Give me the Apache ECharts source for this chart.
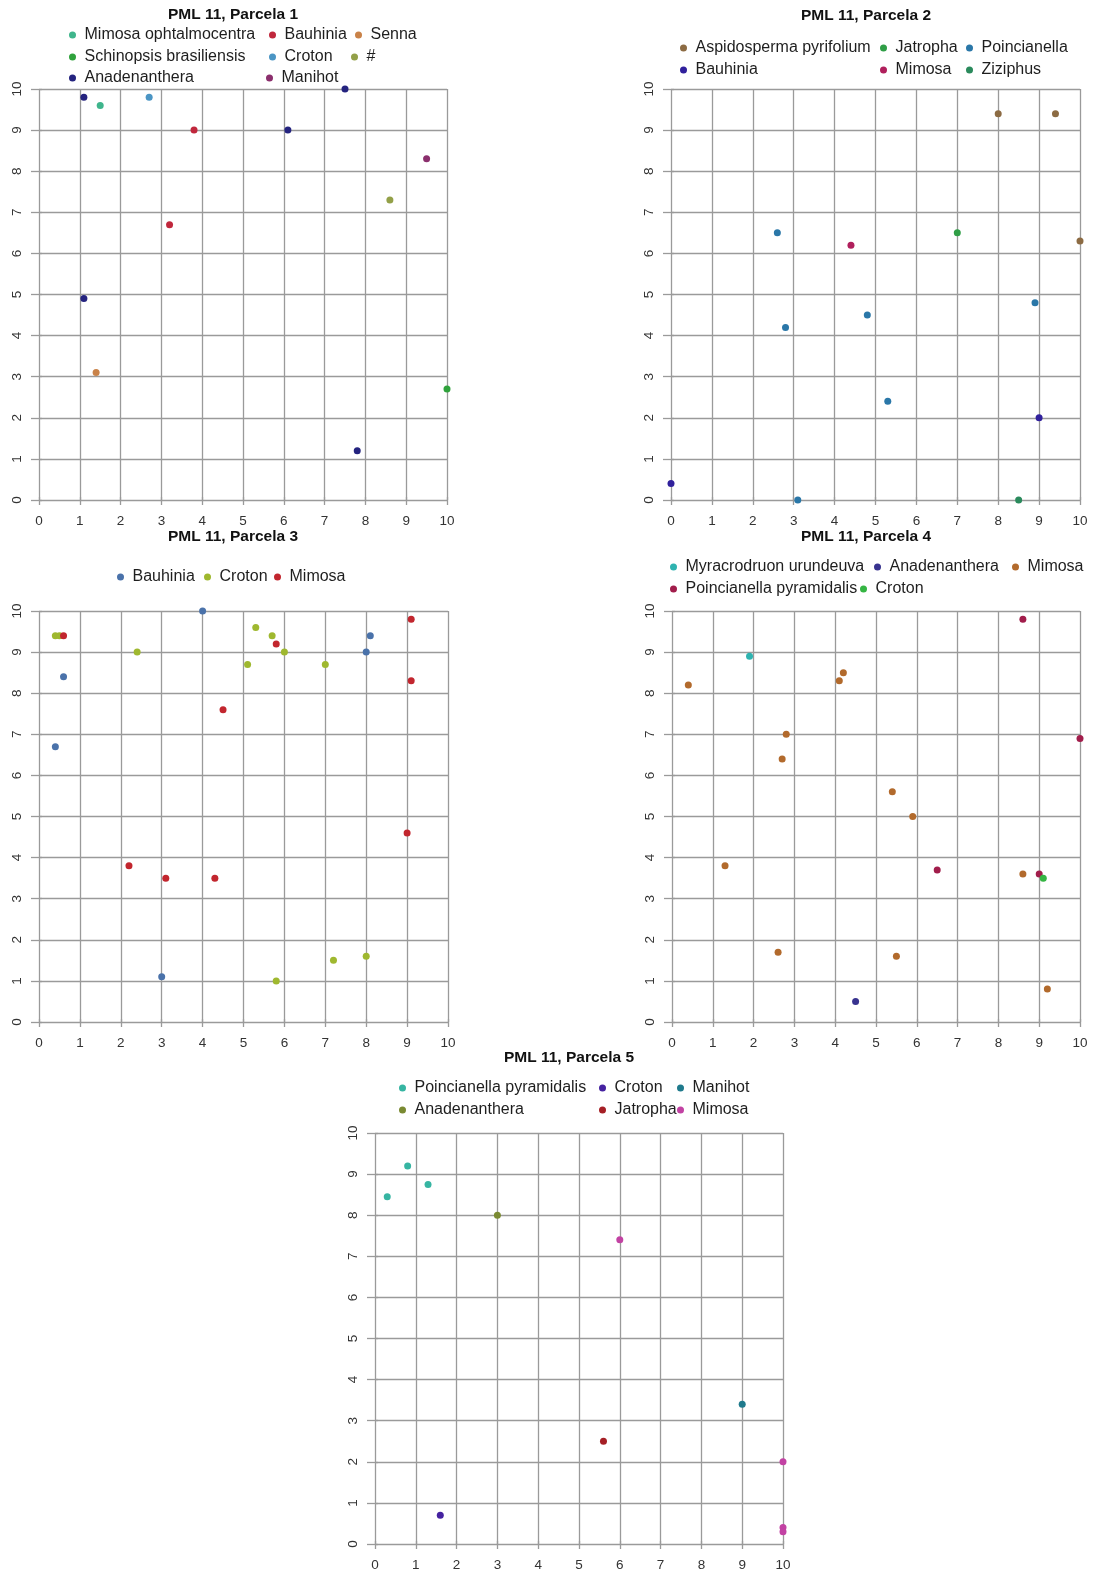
<!DOCTYPE html>
<html>
<head>
<meta charset="utf-8">
<title>PML 11 – Parcelas 1 a 5</title>
<script src="https://cdn.jsdelivr.net/npm/echarts@6/dist/echarts.min.js"></script>
<style>
  html, body { margin: 0; padding: 0; background: #ffffff; }
  #chart { width: 1096px; height: 1573px; }
</style>
</head>
<body>
<div id="chart"></div>
<script>
// ---- Data: tree positions (x, y in metres) per plot ----
const p1Title = 'PML 11, Parcela 1';
const p1Species = ['Mimosa ophtalmocentra', 'Schinopsis brasiliensis', 'Anadenanthera', 'Bauhinia', 'Croton', 'Manihot', 'Senna', '#'];
const p1X =  [1.5, 10.0, 1.1, 6.1, 7.5, 1.1, 7.8, 3.8, 3.2, 2.7, 9.5, 1.4, 8.6];
const p1Y =  [9.6, 2.7, 9.8, 9.0, 10.0, 4.9, 1.2, 9.0, 6.7, 9.8, 8.3, 3.1, 7.3];
const p1Sp = [0, 1, 2, 2, 2, 2, 2, 3, 3, 4, 5, 6, 7];

const p2Title = 'PML 11, Parcela 2';
const p2Species = ['Aspidosperma pyrifolium', 'Bauhinia', 'Jatropha', 'Mimosa', 'Poincianella', 'Ziziphus'];
const p2X =  [8.0, 9.4, 10.0, 9.0, 0.0, 7.0, 4.4, 2.6, 8.9, 4.8, 2.8, 5.3, 3.1, 8.5];
const p2Y =  [9.4, 9.4, 6.3, 2.0, 0.4, 6.5, 6.2, 6.5, 4.8, 4.5, 4.2, 2.4, 0.0, 0.0];
const p2Sp = [0, 0, 0, 1, 1, 2, 3, 4, 4, 4, 4, 4, 4, 5];

const p3Title = 'PML 11, Parcela 3';
const p3Species = ['Bauhinia', 'Croton', 'Mimosa'];
const p3X =  [4.0, 0.4, 0.6, 8.0, 8.1, 3.0,
              0.4, 0.5, 2.4, 5.3, 5.7, 6.0, 5.1, 7.0, 7.2, 8.0, 5.8,
              0.6, 5.8, 9.1, 9.1, 4.5, 9.0, 2.2, 3.1, 4.3];
const p3Y =  [10.0, 6.7, 8.4, 9.0, 9.4, 1.1,
              9.4, 9.4, 9.0, 9.6, 9.4, 9.0, 8.7, 8.7, 1.5, 1.6, 1.0,
              9.4, 9.2, 9.8, 8.3, 7.6, 4.6, 3.8, 3.5, 3.5];
const p3Sp = [0, 0, 0, 0, 0, 0,
              1, 1, 1, 1, 1, 1, 1, 1, 1, 1, 1,
              2, 2, 2, 2, 2, 2, 2, 2, 2];

const p4Title = 'PML 11, Parcela 4';
const p4Species = ['Myracrodruon urundeuva', 'Poincianella pyramidalis', 'Anadenanthera', 'Croton', 'Mimosa'];
const p4X =  [1.9, 8.6, 10.0, 6.5, 9.0, 4.5, 9.1,
              0.4, 4.1, 4.2, 2.8, 2.7, 5.4, 5.9, 1.3, 8.6, 2.6, 5.5, 9.2];
const p4Y =  [8.9, 9.8, 6.9, 3.7, 3.6, 0.5, 3.5,
              8.2, 8.3, 8.5, 7.0, 6.4, 5.6, 5.0, 3.8, 3.6, 1.7, 1.6, 0.8];
const p4Sp = [0, 1, 1, 1, 1, 2, 3,
              4, 4, 4, 4, 4, 4, 4, 4, 4, 4, 4, 4];

const p5Title = 'PML 11, Parcela 5';
const p5Species = ['Poincianella pyramidalis', 'Anadenanthera', 'Croton', 'Jatropha', 'Manihot', 'Mimosa'];
const p5X =  [0.3, 0.8, 1.3, 3.0, 1.6, 5.6, 9.0, 6.0, 10.0, 10.0, 10.0];
const p5Y =  [8.45, 9.2, 8.75, 8.0, 0.7, 2.5, 3.4, 7.4, 2.0, 0.4, 0.3];
const p5Sp = [0, 0, 0, 1, 2, 3, 4, 5, 5, 5, 5];

const axisTicks = [0, 1, 2, 3, 4, 5, 6, 7, 8, 9, 10];

// ---- Styling ----
const FONT = '"Liberation Sans", Arial, Helvetica, sans-serif';
const GRID_COLOR = '#9a9a9a';
const p1Colors = ['#3fb58c', '#2fa23c', '#24237f', '#c0273c', '#4b95c4', '#8b2f6d', '#c98248', '#93a048'];
const p2Colors = ['#8c6b43', '#30209c', '#2f9e46', '#b01f5c', '#2a77a8', '#2a8a5c'];
const p3Colors = ['#4a72aa', '#9fb82f', '#c2262e'];
const p4Colors = ['#2fb3b0', '#a11d4b', '#38338f', '#35b543', '#b26a2c'];
const p5Colors = ['#36b5a2', '#7a8a32', '#4522a0', '#a51f25', '#1f7a8c', '#c242a3'];

// Panel geometry: plot box, title centre, legend entries (dot centre x, row centre y)
const panels = [
  { title: p1Title, species: p1Species, x: p1X, y: p1Y, sp: p1Sp, colors: p1Colors,
    box: { left: 39, top: 89, width: 408, height: 411 }, titlePos: [233, 15],
    legendPos: [[76, 35], [76, 57], [76, 78], [276, 35], [276, 57], [273, 78], [362, 35], [358, 57]] },
  { title: p2Title, species: p2Species, x: p2X, y: p2Y, sp: p2Sp, colors: p2Colors,
    box: { left: 671, top: 89, width: 409, height: 411 }, titlePos: [866, 16],
    legendPos: [[687, 48], [687, 70], [887, 48], [887, 70], [973, 48], [973, 70]] },
  { title: p3Title, species: p3Species, x: p3X, y: p3Y, sp: p3Sp, colors: p3Colors,
    box: { left: 39, top: 611, width: 409, height: 411 }, titlePos: [233, 537],
    legendPos: [[124, 577], [211, 577], [281, 577]] },
  { title: p4Title, species: p4Species, x: p4X, y: p4Y, sp: p4Sp, colors: p4Colors,
    box: { left: 672, top: 611, width: 408, height: 411 }, titlePos: [866, 537],
    legendPos: [[677, 567], [677, 589], [881, 567], [867, 589], [1019, 567]] },
  { title: p5Title, species: p5Species, x: p5X, y: p5Y, sp: p5Sp, colors: p5Colors,
    box: { left: 375, top: 1133, width: 408, height: 411 }, titlePos: [569, 1058],
    legendPos: [[406, 1088], [406, 1110], [606, 1088], [606, 1110], [684, 1088], [684, 1110]] }
];

const grid = [], xAxis = [], yAxis = [], series = [], legend = [], graphic = [];
const lineStyle = { color: GRID_COLOR, width: 1.3 };

panels.forEach((p, i) => {
  grid.push(Object.assign({ containLabel: false }, p.box));

  // main bottom axis with labels and grid lines
  xAxis.push({
    gridIndex: i, type: 'value', position: 'bottom',
    min: axisTicks[0], max: axisTicks[axisTicks.length - 1], interval: 1,
    axisLine: { show: false },
    axisTick: { show: true, length: 5, lineStyle },
    axisLabel: { margin: 14, fontSize: 13.5, color: '#333', fontFamily: FONT },
    splitLine: { show: true, lineStyle, showMinLine: true, showMaxLine: true }
  });
  // short overhang at the top
  xAxis.push({
    gridIndex: i, type: 'value', position: 'top',
    min: axisTicks[0], max: axisTicks[axisTicks.length - 1], interval: 1,
    axisLine: { show: false },
    axisTick: { show: true, length: 3, lineStyle },
    axisLabel: { show: false }, splitLine: { show: false }
  });
  yAxis.push({
    gridIndex: i, type: 'value', position: 'left',
    min: axisTicks[0], max: axisTicks[axisTicks.length - 1], interval: 1,
    axisLine: { show: false },
    axisTick: { show: true, length: 8, lineStyle },
    axisLabel: { margin: 15, rotate: 90, fontSize: 13.5, color: '#333', fontFamily: FONT },
    splitLine: { show: true, lineStyle, showMinLine: true, showMaxLine: true }
  });
  yAxis.push({
    gridIndex: i, type: 'value', position: 'right',
    min: axisTicks[0], max: axisTicks[axisTicks.length - 1], interval: 1,
    axisLine: { show: false },
    axisTick: { show: true, length: 3, lineStyle },
    axisLabel: { show: false }, splitLine: { show: false }
  });

  p.species.forEach((name, k) => {
    const sname = (i + 1) + '\u200b' + name;
    const pts = [];
    p.sp.forEach((s, j) => { if (s === k) pts.push([p.x[j], p.y[j]]); });
    series.push({
      type: 'scatter', name: sname,
      xAxisIndex: 2 * i, yAxisIndex: 2 * i,
      data: pts, symbol: 'circle', symbolSize: 7, clip: false,
      itemStyle: { color: p.colors[k], opacity: 1 },
      emphasis: { disabled: true }
    });
    const [lx, ly] = p.legendPos[k];
    legend.push({
      data: [sname], orient: 'horizontal',
      left: lx - 7, top: ly - 8, padding: 0,
      itemWidth: 14, itemHeight: 7, icon: 'circle', selectedMode: false,
      formatter: (n) => n.split('\u200b')[1],
      textStyle: { fontSize: 16, color: '#1e1e1e', fontFamily: FONT, padding: [0, 0, 0, 0] }
    });
  });

  graphic.push({
    type: 'text', x: p.titlePos[0], y: p.titlePos[1],
    style: { text: p.title, font: 'bold 15.5px ' + FONT, fill: '#111', align: 'center', verticalAlign: 'middle' }
  });
});

const chart = echarts.init(document.getElementById('chart'), null, { renderer: 'canvas' });
chart.setOption({
  backgroundColor: '#ffffff',
  animation: false,
  grid, xAxis, yAxis, series, legend, graphic
});
</script>
</body>
</html>
